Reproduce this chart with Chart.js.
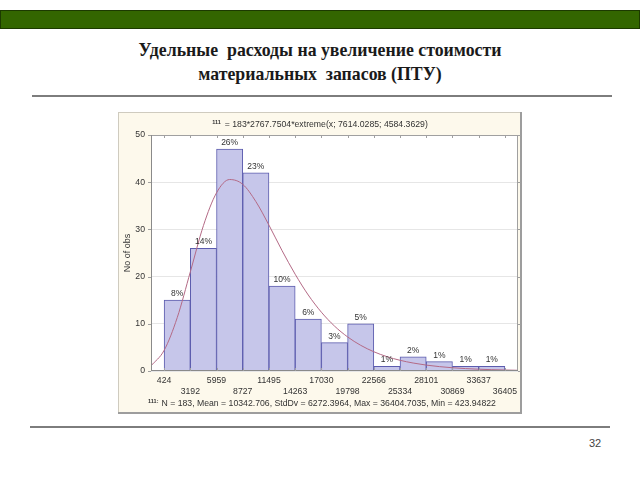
<!DOCTYPE html>
<html>
<head>
<meta charset="utf-8">
<script src="https://cdn.jsdelivr.net/npm/chart.js@4"></script>
<style>
  html, body { margin:0; padding:0; background:#fff; }
  body { width:640px; height:480px; position:relative; overflow:hidden; }
  #greenbar { position:absolute; left:0; top:10px; width:640px; height:19px; box-sizing:border-box;
    background:#336600; border:1px solid #1c3a00; }
  #title { position:absolute; left:0; top:38px; width:640px; text-align:center;
    font-family:"Liberation Serif","Times New Roman",serif; font-weight:bold; font-size:17.8px;
    line-height:24px; color:#1a1a1a; white-space:pre; }
  .rule { position:absolute; height:2px; background:#7d7d7d; }
  #panel { position:absolute; left:118px; top:112px; width:404px; height:302px; }
  #page { position:absolute; left:589px; top:437px; font-family:"Liberation Sans",Arial,sans-serif;
    font-size:11px; color:#444; }
</style>
</head>
<body>
<div id="greenbar"></div>
<div id="title">Удельные  расходы на увеличение стоимости
материальных  запасов (ПТУ)</div>
<div class="rule" style="left:32px;top:95px;width:580px;"></div>
<div id="panel"><canvas id="c" width="404" height="302"></canvas></div>
<div class="rule" style="left:30px;top:426px;width:580px;"></div>
<div id="page">32</div>
<script>
// ---- data ----
const edges = [424, 3192, 5959, 8727, 11495, 14263, 17030, 19798, 22566, 25334, 28101, 30869, 33637, 36405];
const counts = [15, 26, 47, 42, 18, 11, 6, 10, 1, 3, 2, 1, 1];
const pctLabels = ['8%', '14%', '26%', '23%', '10%', '6%', '3%', '5%', '1%', '2%', '1%', '1%', '1%'];
const curveX = [-960, 424, 1808, 3192, 4575, 5959, 7343, 8727, 10111, 11495, 12879, 14263, 15646, 17030,
  18414, 19798, 21182, 22566, 23950, 25334, 26718, 28101, 29485, 30869, 32253, 33637, 35021, 36405, 37789];
const curveY = [1.09, 4.37, 11.3, 21.0, 30.8, 37.75, 40.57, 39.55, 35.9, 30.9, 25.5, 20.5, 16.1, 12.46,
  9.52, 7.22, 5.44, 4.08, 3.04, 2.27, 1.69, 1.25, 0.93, 0.69, 0.51, 0.38, 0.28, 0.21, 0.15];
const yTicks = [0, 10, 20, 30, 40, 50];
const formulaMark = '111';
const formulaText = '= 183*2767.7504*extreme(x; 7614.0285; 4584.3629)';
const footerText = 'N = 183, Mean = 10342.706, StdDv = 6272.3964, Max = 36404.7035, Min = 423.94822';
const yTitle = 'No of obs';

const FONT = '"Liberation Sans", Arial, sans-serif';
const halfBin = (edges[1] - edges[0]) / 2;

const barData = counts.map((c, i) => ({ x: (edges[i] + edges[i + 1]) / 2, y: c }));
const lineData = curveX.map((x, i) => ({ x: x, y: curveY[i] }));

const panelPlugin = {
  id: 'panel',
  beforeDraw(chart) {
    const { ctx, width, height, chartArea: a } = chart;
    ctx.save();
    ctx.fillStyle = '#fdf9ec';
    ctx.fillRect(0, 0, width, height);
    ctx.fillStyle = '#ffffff';
    ctx.fillRect(a.left, a.top, a.right - a.left, a.bottom - a.top);
    ctx.strokeStyle = '#cfcbbf';
    ctx.lineWidth = 1;
    ctx.strokeRect(0.5, 0.5, width - 1, height - 1);
    ctx.strokeStyle = '#9d9d9d';
    ctx.lineWidth = 2;
    ctx.beginPath();
    ctx.moveTo(width - 1, 0); ctx.lineTo(width - 1, height - 1); ctx.lineTo(0, height - 1);
    ctx.stroke();
    ctx.restore();
  },
  afterDraw(chart) {
    const { ctx, width, chartArea: a, scales } = chart;
    const xs = scales.x, ys = scales.y;
    ctx.save();
    // frame
    ctx.lineWidth = 1;
    ctx.strokeStyle = '#a0a0a0';
    ctx.strokeRect(Math.round(a.left) + 0.5, Math.round(a.top) + 0.5,
      Math.round(a.right - a.left) - 1, Math.round(a.bottom - a.top) - 1);
    ctx.strokeStyle = '#8a8a8a';
    ctx.beginPath();
    ctx.moveTo(a.left, Math.round(a.bottom) - 0.5); ctx.lineTo(a.right, Math.round(a.bottom) - 0.5);
    ctx.moveTo(Math.round(a.left) + 0.5, a.top); ctx.lineTo(Math.round(a.left) + 0.5, a.bottom);
    ctx.stroke();
    // tick marks
    ctx.strokeStyle = '#a0a0a0';
    ctx.beginPath();
    edges.forEach(v => {
      const px = Math.round(xs.getPixelForValue(v)) + 0.5;
      ctx.moveTo(px, a.top); ctx.lineTo(px, a.top + 3);
      ctx.moveTo(px, a.bottom); ctx.lineTo(px, a.bottom - 3);
    });
    yTicks.forEach(v => {
      const py = Math.round(ys.getPixelForValue(v)) + 0.5;
      ctx.moveTo(a.right, py); ctx.lineTo(a.right + 3, py);
      ctx.moveTo(a.left - 3, py); ctx.lineTo(a.left, py);
    });
    ctx.stroke();
    // percent labels
    ctx.fillStyle = '#333';
    ctx.font = '8.5px ' + FONT;
    ctx.textAlign = 'center';
    ctx.textBaseline = 'bottom';
    counts.forEach((c, i) => {
      const px = xs.getPixelForValue((edges[i] + edges[i + 1]) / 2);
      const py = ys.getPixelForValue(c);
      ctx.fillText(pctLabels[i], px, py - 2);
    });
    // formula on top
    ctx.textBaseline = 'middle';
    ctx.textAlign = 'left';
    ctx.font = '8.7px ' + FONT;
    const fw = ctx.measureText(formulaText).width;
    ctx.font = 'bold 5.5px ' + FONT;
    const mw = ctx.measureText(formulaMark).width;
    const total = mw + 4 + fw;
    let sx = (width - total) / 2;
    ctx.fillText(formulaMark, sx, 10);
    ctx.font = '8.7px ' + FONT;
    ctx.fillText(formulaText, sx + mw + 4, 13);
    // footer
    ctx.font = '8.7px ' + FONT;
    const nw = ctx.measureText(footerText).width;
    ctx.font = 'bold 5.5px ' + FONT;
    const fm = formulaMark + ':';
    const fmw = ctx.measureText(fm).width;
    const tot2 = fmw + 3 + nw;
    sx = (width - tot2) / 2 + 2;
    ctx.fillText(fm, sx, 289);
    ctx.font = '8.7px ' + FONT;
    ctx.fillText(footerText, sx + fmw + 3, 292);
    // y title
    ctx.save();
    ctx.translate(10, (a.top + a.bottom) / 2);
    ctx.rotate(-Math.PI / 2);
    ctx.textAlign = 'center';
    ctx.font = '9px ' + FONT;
    ctx.fillText(yTitle, 0, 0);
    ctx.restore();
    ctx.restore();
  }
};

new Chart(document.getElementById('c'), {
  type: 'bar',
  data: {
    datasets: [
      {
        type: 'line',
        data: lineData,
        borderColor: '#b46a86',
        borderWidth: 1,
        pointRadius: 0,
        fill: false,
        cubicInterpolationMode: 'monotone',
        order: 0
      },
      {
        type: 'bar',
        data: barData,
        backgroundColor: '#c6c6ea',
        borderColor: '#5c5cae',
        borderWidth: 1,
        barPercentage: 1,
        categoryPercentage: 1,
        order: 1
      }
    ]
  },
  options: {
    responsive: false,
    animation: false,
    devicePixelRatio: 1,
    layout: { padding: { top: 23, right: 4, left: 0, bottom: 0 } },
    plugins: { legend: { display: false }, tooltip: { enabled: false }, title: { display: false } },
    scales: {
      x: {
        type: 'linear',
        offset: false,
        min: edges[0] - halfBin,
        max: edges[edges.length - 1] + halfBin,
        grid: { display: false, drawTicks: false, offset: false },
        border: { display: false },
        afterBuildTicks(scale) { scale.ticks = edges.map(v => ({ value: v })); },
        afterFit(scale) { scale.height = 43; },
        ticks: {
          autoSkip: false, maxRotation: 0, minRotation: 0, padding: 4,
          color: '#333', font: { family: FONT, size: 8.7, lineHeight: 1.3 },
          callback(value, index) {
            return index % 2 === 0 ? [String(edges[index]), ''] : ['', String(edges[index])];
          }
        }
      },
      y: {
        min: 0, max: 50,
        afterBuildTicks(scale) { scale.ticks = yTicks.map(v => ({ value: v })); },
        afterFit(scale) { scale.width = 33; },
        grid: { color: '#e6e6e6', drawTicks: false },
        border: { display: false },
        ticks: { padding: 6, color: '#333', font: { family: FONT, size: 8.7 } }
      }
    }
  },
  plugins: [panelPlugin]
});
</script>
</body>
</html>
